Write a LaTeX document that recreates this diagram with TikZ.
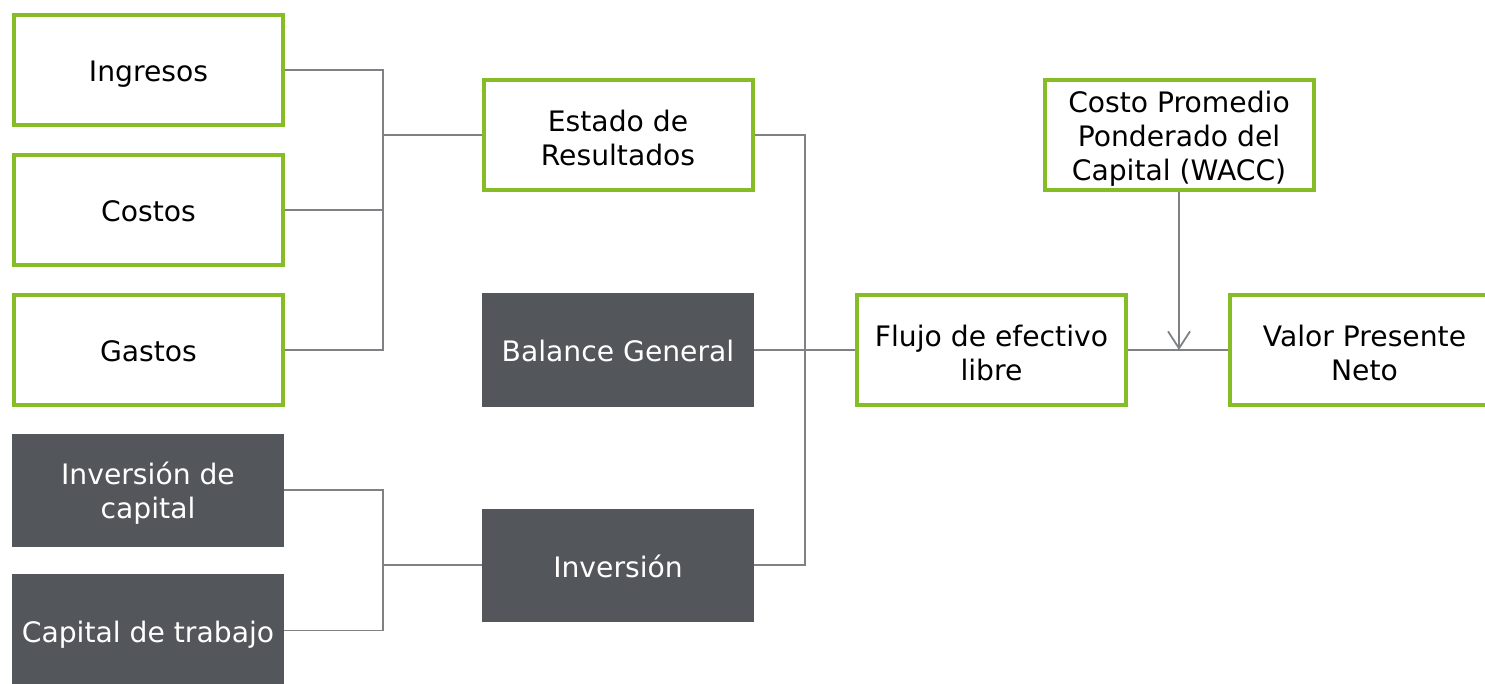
\documentclass[tikz,border=0pt]{standalone}
\usepackage{fontspec}
\setmainfont{DejaVu Sans}
\usetikzlibrary{arrows.meta}
\definecolor{dgreen}{HTML}{86BC25}
\definecolor{dgray}{HTML}{53565A}
\definecolor{lgray}{HTML}{7F8184}
\tikzset{
  gbox/.style={draw=dgreen, line width=4pt, fill=white, minimum width=269pt, minimum height=110pt, inner sep=0pt},
  dbox/.style={fill=dgray, minimum width=272pt, minimum height=113pt, inner sep=0pt},
  txt/.style={inner sep=0pt, align=center, font=\fontsize{28.2}{34}\selectfont},
  one/.style={txt, anchor=base, yshift=-12pt},
  two/.style={txt, anchor=center, yshift=-3pt},
  conn/.style={draw=lgray, line width=1.8pt},
}
\begin{document}
\begin{tikzpicture}[x=1pt,y=-1pt]
\useasboundingbox (0,0) rectangle (1485,684);
\node[gbox] (ing) at (148.5,70) {};
\node[gbox] (cos) at (148.5,210) {};
\node[gbox] (gas) at (148.5,350) {};
\node[dbox] (invc) at (148,490) {};
\node[dbox] (ctr) at (148,630.5) {};
\node[gbox] (est) at (618,135) {};
\node[dbox] (bal) at (618,350) {};
\node[dbox] (inv) at (618,565) {};
\node[gbox] (flu) at (991.5,350) {};
\node[gbox] (wacc) at (1179,135.5) {};
\node[gbox] (vpn) at (1364.5,350) {};
\node[one] (ingt) at (ing.center) {Ingresos};
\node[one] (cost) at (cos.center) {Costos};
\node[one] (gast) at (gas.center) {Gastos};
\node[two, text=white] (invct) at (invc.center) {Inversión de\\capital};
\node[one, text=white] (ctrt) at (ctr.center) {Capital de trabajo};
\node[two] (estt) at (est.center) {Estado de\\Resultados};
\node[one, text=white] (balt) at (bal.center) {Balance General};
\node[one, text=white] (invt) at (inv.center) {Inversión};
\node[two] (flut) at (flu.center) {Flujo de efectivo\\libre};
\node[two] (wacct) at (wacc.center) {Costo Promedio\\Ponderado del\\Capital (WACC)};
\node[two] (vpnt) at (vpn.center) {Valor Presente\\Neto};
\coordinate (j1) at (383,135);
\coordinate (j2) at (383,565);
\coordinate (j3) at (805,350);
\coordinate (j4) at (1179,350);
\draw[conn] (ing.east) -| (j1) |- (gas.east);
\draw[conn] (cos.east) -- (cos.east -| j1);
\draw[conn] (j1) -- (est.west);
\draw[conn] (invc.east) -| (j2) |- (ctr.east);
\draw[conn] (j2) -- (inv.west);
\draw[conn] (est.east) -| (j3) |- (inv.east);
\draw[conn] (bal.east) -- (flu.west);
\draw[conn] (flu.east) -- (vpn.west);
\draw[conn, -{Straight Barb[length=17pt,width=22pt,line width=1.8pt]}] (wacc.south) -- (j4);
\end{tikzpicture}
\end{document}
